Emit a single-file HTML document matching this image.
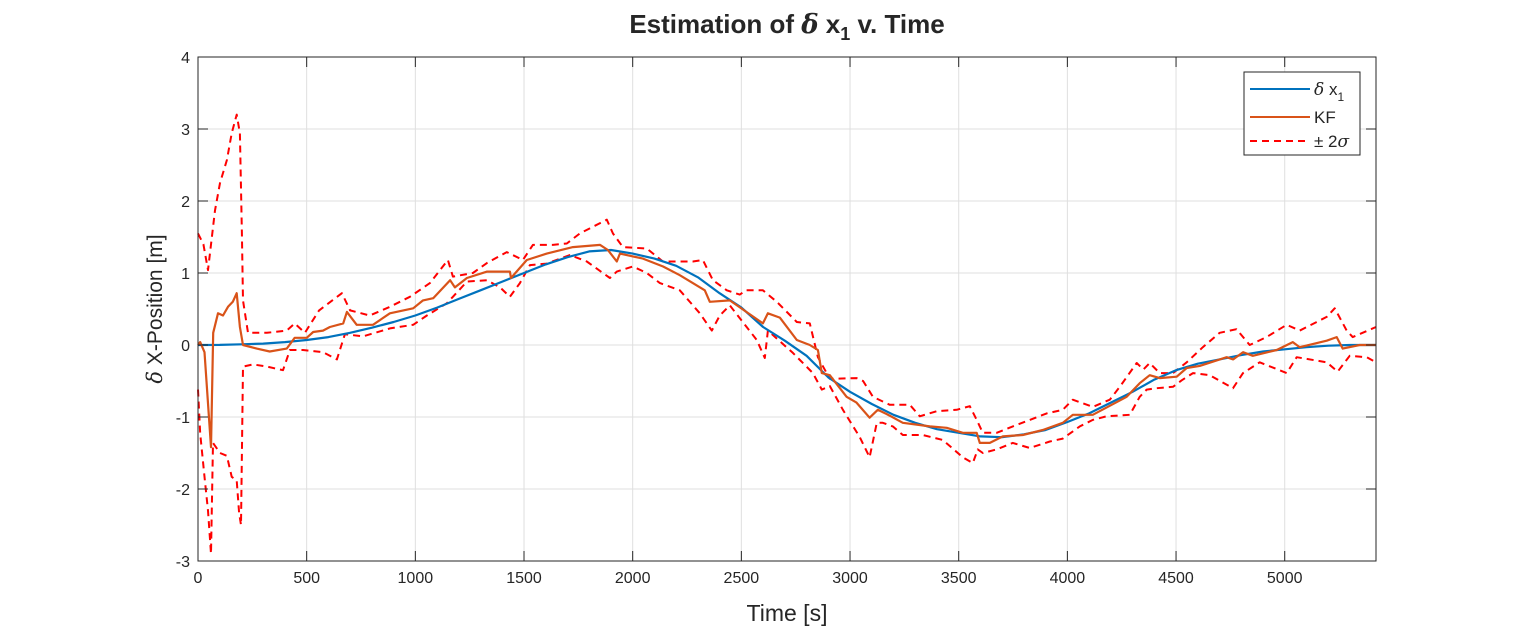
<!DOCTYPE html>
<html><head><meta charset="utf-8"><style>
body{margin:0;background:#fff;}
svg text{font-family:"Liberation Sans",sans-serif;fill:#262626;}
</style></head><body>
<svg id="chart" width="1522" height="630" xmlns="http://www.w3.org/2000/svg">
<rect width="1522" height="630" fill="#fff"/>
<g id="grid"></g>
<g id="plot"></g>
<g id="axes"></g>
<text x="787" y="33" text-anchor="middle" font-size="26" font-weight="bold" fill="#000">Estimation of <tspan font-family="DejaVu Serif" font-style="italic">δ</tspan> x<tspan font-size="18" dy="7">1</tspan><tspan dy="-7"> v. Time</tspan></text>
<text x="787" y="621" text-anchor="middle" font-size="23">Time [s]</text>
<text transform="translate(162,309) rotate(-90)" text-anchor="middle" font-size="21"><tspan font-family="DejaVu Serif" font-style="italic">δ</tspan> X-Position [m]</text>
<g>
<rect x="1244" y="72" width="116" height="83" fill="#fff" stroke="#262626" stroke-width="1"/>
<line x1="1250" y1="89" x2="1310" y2="89" stroke="#0072BD" stroke-width="2"/>
<text x="1314" y="95" font-size="17"><tspan font-family="DejaVu Serif" font-style="italic">δ</tspan> x<tspan font-size="12" dy="6">1</tspan></text>
<line x1="1250" y1="117" x2="1310" y2="117" stroke="#D95319" stroke-width="2"/>
<text x="1314" y="123" font-size="17">KF</text>
<line x1="1250" y1="141" x2="1310" y2="141" stroke="#FF0000" stroke-width="2" stroke-dasharray="7,5"/>
<text x="1314" y="147" font-size="17">± 2<tspan font-family="DejaVu Serif" font-style="italic">σ</tspan></text>
</g>
</svg>
<script>
const xTicks=[0,500,1000,1500,2000,2500,3000,3500,4000,4500,5000];
const yTicks=[-3,-2,-1,0,1,2,3,4];
const truthT=[0,100,200,300,400,500,600,700,800,900,1000,1100,1200,1300,1400,1500,1600,1700,1800,1900,2000,2100,2200,2300,2400,2500,2600,2700,2800,2900,3000,3100,3200,3300,3400,3500,3600,3700,3800,3900,4000,4100,4200,4300,4400,4500,4600,4700,4800,4900,5000,5100,5200,5300,5420];
const truthV=[0,0.002,0.01,0.02,0.04,0.07,0.11,0.17,0.24,0.32,0.41,0.52,0.64,0.76,0.88,1.0,1.12,1.22,1.3,1.32,1.27,1.2,1.1,0.94,0.72,0.52,0.25,0.06,-0.15,-0.45,-0.65,-0.82,-0.97,-1.08,-1.17,-1.22,-1.27,-1.28,-1.24,-1.18,-1.07,-0.95,-0.8,-0.65,-0.48,-0.35,-0.26,-0.2,-0.14,-0.09,-0.06,-0.03,-0.01,0,0];
const kfT=[0,10,30,60,70,92,115,138,160,178,193,207,270,330,408,445,500,530,575,607,668,685,730,805,883,990,1035,1082,1160,1182,1237,1330,1435,1440,1513,1605,1725,1850,1886,1927,1941,2047,2140,2217,2332,2355,2447,2599,2622,2677,2755,2815,2852,2870,2907,2984,3030,3090,3128,3169,3243,3367,3445,3519,3583,3597,3643,3703,3795,3887,3979,4025,4117,4273,4333,4379,4425,4503,4549,4609,4733,4763,4808,4853,4963,5037,5069,5193,5239,5267,5345,5420];
const kfV=[0,0.04,-0.1,-1.42,0.17,0.44,0.41,0.53,0.6,0.72,0.25,0,-0.05,-0.09,-0.05,0.1,0.1,0.18,0.2,0.25,0.3,0.46,0.28,0.28,0.44,0.51,0.62,0.65,0.9,0.8,0.93,1.02,1.02,0.93,1.18,1.27,1.36,1.39,1.32,1.16,1.27,1.2,1.09,0.97,0.76,0.6,0.62,0.3,0.44,0.38,0.07,0,-0.07,-0.39,-0.42,-0.72,-0.8,-1.01,-0.9,-0.96,-1.08,-1.13,-1.15,-1.22,-1.22,-1.36,-1.36,-1.27,-1.25,-1.18,-1.08,-0.97,-0.97,-0.72,-0.53,-0.42,-0.46,-0.44,-0.32,-0.29,-0.17,-0.2,-0.1,-0.15,-0.07,0.04,-0.03,0.06,0.11,-0.05,0,0];
const upT=[0,25,46,78,101,133,155,178,193,202,207,230,317,408,445,492,557,662,700,790,883,975,1067,1150,1173,1265,1330,1421,1495,1541,1633,1697,1757,1881,1909,1955,2065,2139,2277,2323,2369,2433,2493,2522,2599,2663,2755,2815,2852,2907,3030,3060,3105,3183,3275,3321,3399,3491,3551,3583,3611,3675,3749,3827,3905,3979,4025,4117,4195,4241,4319,4350,4379,4425,4486,4549,4623,4701,4778,4839,4916,5009,5069,5193,5230,5285,5313,5420];
const upV=[1.55,1.4,1.04,1.87,2.25,2.57,2.94,3.2,2.94,1.55,0.62,0.17,0.17,0.2,0.3,0.17,0.48,0.72,0.48,0.41,0.53,0.67,0.86,1.18,0.95,1.0,1.14,1.29,1.18,1.39,1.39,1.41,1.55,1.74,1.55,1.36,1.34,1.16,1.16,1.18,0.9,0.76,0.7,0.76,0.76,0.6,0.32,0.3,-0.17,-0.47,-0.46,-0.5,-0.72,-0.83,-0.83,-0.99,-0.92,-0.9,-0.85,-1.04,-1.22,-1.22,-1.13,-1.04,-0.95,-0.9,-0.76,-0.86,-0.76,-0.58,-0.25,-0.34,-0.25,-0.39,-0.39,-0.24,-0.03,0.17,0.22,0,0.11,0.28,0.2,0.39,0.51,0.2,0.11,0.25];
const loT=[0,10,30,46,60,69,101,133,155,178,189,198,207,253,317,391,423,483,575,639,676,759,883,990,1053,1145,1173,1237,1330,1390,1435,1481,1527,1605,1711,1789,1895,1927,2001,2065,2125,2217,2309,2364,2401,2447,2571,2608,2622,2737,2829,2870,2907,2967,3045,3090,3123,3151,3197,3243,3335,3427,3519,3565,3588,3611,3675,3749,3827,3919,3979,4057,4117,4180,4287,4333,4365,4411,4486,4526,4578,4655,4762,4808,4885,5009,5055,5193,5244,5299,5377,5420];
const loV=[-0.62,-1.23,-1.83,-2.3,-2.9,-1.36,-1.5,-1.54,-1.83,-1.88,-2.33,-2.5,-0.3,-0.27,-0.3,-0.35,-0.07,-0.07,-0.1,-0.2,0.15,0.12,0.23,0.28,0.41,0.58,0.67,0.88,0.9,0.8,0.67,0.86,1.11,1.13,1.25,1.16,0.93,1.02,1.09,1.0,0.86,0.76,0.44,0.2,0.41,0.55,0.07,-0.18,0.2,-0.11,-0.39,-0.62,-0.57,-0.9,-1.28,-1.56,-1.08,-1.08,-1.13,-1.25,-1.25,-1.32,-1.56,-1.64,-1.45,-1.5,-1.45,-1.36,-1.43,-1.34,-1.3,-1.13,-1.04,-0.99,-0.97,-0.72,-0.62,-0.6,-0.58,-0.49,-0.39,-0.42,-0.6,-0.39,-0.24,-0.39,-0.17,-0.24,-0.37,-0.15,-0.17,-0.24];

const L=198,R=1376,T=57,B=561,XMAX=5420,YMIN=-3,YMAX=4;
const xs=t=>L+(t/XMAX)*(R-L);
const ys=v=>B-(v-YMIN)/(YMAX-YMIN)*(B-T);
const NS='http://www.w3.org/2000/svg';
function mk(tag,parent,attrs){const e=document.createElementNS(NS,tag);for(const k in attrs)e.setAttribute(k,attrs[k]);parent.appendChild(e);return e;}
const grid=document.getElementById('grid'),plot=document.getElementById('plot'),axes=document.getElementById('axes');
xTicks.forEach(t=>{
  const g=mk('line',grid,{x1:xs(t),x2:xs(t),y1:T,y2:B,stroke:'#dfdfdf','stroke-width':1});
  
  
  const tk=mk('line',axes,{x1:xs(t),x2:xs(t),y1:B,y2:B-10,stroke:'#262626','stroke-width':1});
  
  
  const tk2=mk('line',axes,{x1:xs(t),x2:xs(t),y1:T,y2:T+10,stroke:'#262626','stroke-width':1});
  
  
  const tx=mk('text',axes,{x:xs(t),y:B+22,'text-anchor':'middle','font-size':16});
  tx.textContent=t;
  
  
});
yTicks.forEach(v=>{
  const g=mk('line',grid,{x1:L,x2:R,y1:ys(v),y2:ys(v),stroke:'#dfdfdf','stroke-width':1});
  
  
  const tk=mk('line',axes,{x1:L,x2:L+10,y1:ys(v),y2:ys(v),stroke:'#262626','stroke-width':1});
  
  
  const tk2=mk('line',axes,{x1:R,x2:R-10,y1:ys(v),y2:ys(v),stroke:'#262626','stroke-width':1});
  
  
  const tx=mk('text',axes,{x:L-8,y:ys(v)+6,'text-anchor':'end','font-size':16});
  tx.textContent=v;
  
  
});
const box=mk('rect',axes,{x:L,y:T,width:R-L,height:B-T,fill:'none',stroke:'#262626','stroke-width':1});


function line(T_,V,color,w,dash,name){
  const d=T_.map((t,i)=>(i?'L':'M')+xs(t).toFixed(1)+','+ys(V[i]).toFixed(1)).join('');
  const p=mk('path',plot,{d:d,fill:'none',stroke:color,'stroke-width':w,'stroke-linejoin':'round'});
  if(dash)p.setAttribute('stroke-dasharray',dash);
  
  
}
line(upT,upV,'#FF0000',2,'7,5','upper-2sigma-line');
line(loT,loV,'#FF0000',2,'7,5','lower-2sigma-line');
line(truthT,truthV,'#0072BD',2.2,null,'truth-line');
line(kfT,kfV,'#D95319',2.2,null,'kf-line');
</script>
</body></html>
